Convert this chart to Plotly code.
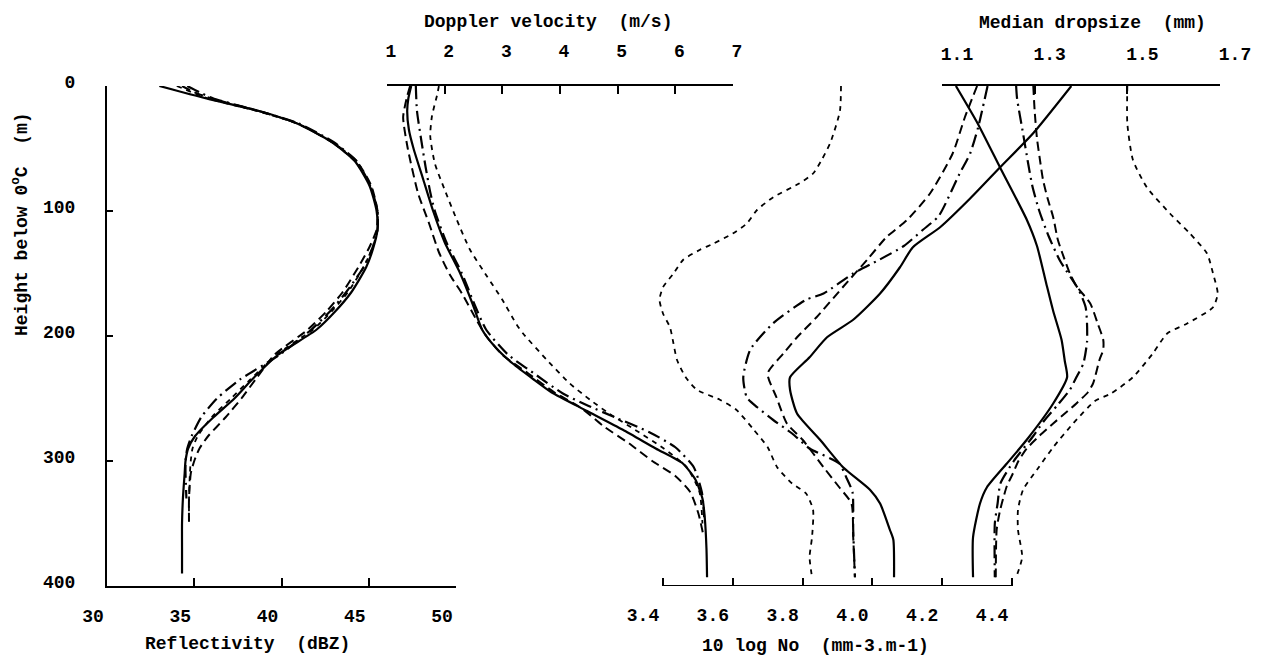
import plotly.graph_objects as go

W, H = 1267, 658

# ---------------- data ----------------
# Reflectivity (dBZ) vs height below 0 degC (m)
refl_h_solid = [0, 10, 20, 30, 45, 60, 80, 100, 115, 130, 145, 165, 180, 195, 215, 235, 250, 265, 280, 290, 300, 310, 330, 350, 370, 390]
refl_solid = [33.0, 35.7, 38.7, 40.9, 42.9, 44.2, 45.05, 45.45, 45.5, 45.25, 44.85, 44.0, 43.1, 42.0, 39.8, 38.3, 37.3, 36.1, 35.05, 34.65, 34.5, 34.45, 34.35, 34.3, 34.3, 34.3]
refl_h_dash = [0, 5, 10, 20, 30, 45, 60, 80, 100, 115, 130, 145, 165, 180, 195, 215, 235, 250, 265, 280, 290, 300, 310, 330, 350]
refl_dash = [34.3, 35.0, 36.0, 38.7, 40.9, 42.9, 44.3, 45.15, 45.5, 45.45, 45.0, 44.4, 43.5, 42.6, 41.5, 39.6, 38.5, 37.7, 36.8, 35.8, 35.3, 35.0, 34.8, 34.7, 34.7]
refl_h_dashdot = [0, 5, 10, 20, 30, 45, 60, 80, 100, 115, 130, 145, 165, 180, 195, 215, 235, 250, 265, 280, 290, 300, 310, 330]
refl_dashdot = [34.6, 35.3, 36.1, 38.7, 41.0, 43.0, 44.3, 45.1, 45.5, 45.5, 45.2, 44.7, 43.7, 42.8, 41.7, 39.9, 37.6, 36.3, 35.4, 34.85, 34.6, 34.5, 34.5, 34.55]
refl_h_dot = [0, 10, 20, 30, 45, 60, 80, 100, 115, 130, 145, 165, 180, 195, 215, 235, 250, 265, 280, 290, 300, 310, 330, 350]
refl_dot = [34.0, 35.8, 38.6, 40.9, 42.9, 44.2, 45.1, 45.5, 45.5, 45.2, 44.7, 43.8, 42.9, 41.8, 39.7, 38.2, 37.1, 36.0, 35.2, 34.9, 34.8, 34.75, 34.7, 34.7]

# Doppler velocity (m/s)
vel_h_solid = [0, 10, 20, 35, 50, 75, 100, 125, 150, 175, 195, 210, 222, 235, 245, 260, 275, 290, 302, 315, 330, 345, 370, 393]
vel_solid = [1.42, 1.37, 1.35, 1.38, 1.46, 1.63, 1.80, 2.0, 2.27, 2.49, 2.65, 2.9, 3.18, 3.55, 3.85, 4.47, 5.09, 5.66, 6.13, 6.35, 6.47, 6.51, 6.54, 6.55]
vel_h_dash = [0, 10, 25, 50, 86, 110, 133, 151, 166, 187, 200, 215, 230, 245, 258, 272, 286, 300, 312, 325, 342, 358]
vel_dash = [1.40, 1.34, 1.28, 1.36, 1.54, 1.73, 1.90, 2.09, 2.30, 2.55, 2.72, 3.0, 3.45, 3.9, 4.38, 4.75, 5.2, 5.6, 6.0, 6.26, 6.4, 6.48]
vel_h_dashdot = [0, 20, 45, 65, 85, 100, 125, 150, 175, 195, 215, 230, 246, 255, 265, 277, 289, 305, 325, 345]
vel_dashdot = [1.50, 1.52, 1.60, 1.67, 1.75, 1.83, 2.03, 2.30, 2.52, 2.72, 3.1, 3.55, 4.05, 4.45, 4.95, 5.55, 6.0, 6.32, 6.46, 6.5]
vel_h_dot = [0, 7, 24, 40, 62, 83, 107, 131, 152, 171, 191, 198, 219, 238, 251, 262, 275, 290, 305, 325, 350]
vel_dot = [1.9, 1.87, 1.78, 1.75, 1.83, 2.0, 2.21, 2.44, 2.73, 3.0, 3.25, 3.36, 3.77, 4.17, 4.52, 4.85, 5.3, 5.8, 6.2, 6.42, 6.47]

# 10 log No (mm-3.m-1)
no_h_solid = [0, 38, 65, 90, 113, 129, 145, 166, 187, 201, 217, 233, 243, 262, 283, 305, 323, 334, 355, 363, 393]
no_solid = [4.57, 4.46, 4.366, 4.28, 4.194, 4.116, 4.079, 4.022, 3.945, 3.87, 3.82, 3.764, 3.764, 3.784, 3.85, 3.916, 3.993, 4.022, 4.05, 4.06, 4.062]
no_h_dash = [0, 25, 54, 86, 107, 121, 139, 161, 185, 201, 214, 230, 249, 270, 283, 305, 321, 334, 361, 393]
no_dash = [4.30, 4.265, 4.23, 4.165, 4.10, 4.04, 3.985, 3.915, 3.84, 3.784, 3.745, 3.70, 3.725, 3.755, 3.80, 3.86, 3.905, 3.94, 3.945, 3.95]
no_h_dashdot = [0, 33, 54, 70, 104, 115, 128, 139, 150, 166, 171, 190, 211, 233, 249, 257, 267, 278, 290, 302, 313, 325, 355, 393]
no_dashdot = [4.33, 4.303, 4.28, 4.25, 4.19, 4.145, 4.09, 4.02, 3.945, 3.86, 3.81, 3.715, 3.65, 3.63, 3.64, 3.67, 3.715, 3.77, 3.82, 3.905, 3.925, 3.943, 3.945, 3.95]
no_h_dot = [0, 20, 45, 59, 70, 78, 89, 99, 110, 118, 126, 131, 139, 150, 161, 171, 182, 193, 206, 219, 233, 243, 251, 259, 275, 289, 305, 318, 326, 339, 361, 377, 393]
no_dot = [3.91, 3.907, 3.88, 3.855, 3.83, 3.79, 3.716, 3.67, 3.64, 3.60, 3.545, 3.506, 3.458, 3.43, 3.40, 3.39, 3.40, 3.42, 3.43, 3.44, 3.465, 3.497, 3.563, 3.61, 3.66, 3.70, 3.727, 3.77, 3.81, 3.83, 3.827, 3.82, 3.827]

# Median dropsize (mm)
d0_h_solid = [0, 30, 65, 107, 128, 158, 180, 203, 220, 233, 254, 283, 302, 321, 334, 361, 393]
d0_solid = [1.13, 1.177, 1.225, 1.283, 1.305, 1.325, 1.34, 1.358, 1.365, 1.37, 1.34, 1.283, 1.24, 1.197, 1.182, 1.167, 1.167]
d0_h_dash = [0, 20, 42, 58, 75, 90, 105, 123, 134, 150, 160, 174, 190, 203, 211, 219, 238, 245, 254, 262, 270, 280, 290, 300, 310, 320, 330, 340, 355, 393]
d0_dash = [1.297, 1.30, 1.305, 1.311, 1.318, 1.328, 1.34, 1.35, 1.36, 1.376, 1.39, 1.42, 1.436, 1.448, 1.448, 1.44, 1.426, 1.415, 1.39, 1.365, 1.34, 1.31, 1.283, 1.265, 1.253, 1.24, 1.232, 1.225, 1.218, 1.216]
d0_h_dashdot = [0, 10, 38, 60, 80, 100, 120, 140, 163, 177, 190, 205, 222, 233, 243, 255, 268, 280, 300, 318, 334, 350, 393]
d0_dashdot = [1.26, 1.262, 1.275, 1.285, 1.295, 1.31, 1.33, 1.355, 1.395, 1.41, 1.413, 1.413, 1.405, 1.39, 1.376, 1.35, 1.32, 1.297, 1.255, 1.226, 1.22, 1.214, 1.214]
d0_h_dot = [0, 30, 59, 81, 102, 118, 134, 150, 166, 177, 190, 198, 214, 233, 246, 252, 270, 289, 307, 323, 339, 355, 377, 393]
d0_dot = [1.50, 1.50, 1.512, 1.542, 1.592, 1.635, 1.672, 1.685, 1.695, 1.685, 1.629, 1.586, 1.555, 1.512, 1.465, 1.43, 1.383, 1.34, 1.305, 1.275, 1.264, 1.264, 1.273, 1.26]

# axis ticks
height_ticks = [0, 100, 200, 300, 400]
refl_ticks = [30, 35, 40, 45, 50]
vel_ticks = [1, 2, 3, 4, 5, 6, 7]
no_ticks = [3.4, 3.6, 3.8, 4.0, 4.2, 4.4]
no_tick_text = ["3.4", "3.6", "3.8", "4.0", "4.2", "4.4"]
d0_ticks = [1.1, 1.3, 1.5, 1.7]
d0_tick_text = ["1.1", "1.3", "1.5", "1.7"]

# ---------------- styling ----------------
FONT = dict(family="Liberation Mono, DejaVu Sans Mono, monospace", size=18, color="black", weight="bold")
STYLES = {
    "solid": dict(color="black", width=2.2, dash="solid"),
    "dash": dict(color="black", width=2.0, dash="9px,5px"),
    "dashdot": dict(color="black", width=2.2, dash="13px,5px,2px,5px"),
    "dot": dict(color="black", width=1.8, dash="5px,5px"),
}


def px(v):
    return v / W


def py(v):
    return 1 - v / H


fig = go.Figure()

panels = [
    ("x", [(refl_solid, refl_h_solid, "solid"), (refl_dash, refl_h_dash, "dash"),
           (refl_dashdot, refl_h_dashdot, "dashdot"), (refl_dot, refl_h_dot, "dot")]),
    ("x2", [(vel_solid, vel_h_solid, "solid"), (vel_dash, vel_h_dash, "dash"),
            (vel_dashdot, vel_h_dashdot, "dashdot"), (vel_dot, vel_h_dot, "dot")]),
    ("x3", [(no_solid, no_h_solid, "solid"), (no_dash, no_h_dash, "dash"),
            (no_dashdot, no_h_dashdot, "dashdot"), (no_dot, no_h_dot, "dot")]),
    ("x4", [(d0_solid, d0_h_solid, "solid"), (d0_dash, d0_h_dash, "dash"),
            (d0_dashdot, d0_h_dashdot, "dashdot"), (d0_dot, d0_h_dot, "dot")]),
]
for xa, series in panels:
    for xs, hs, style in series:
        fig.add_trace(go.Scatter(x=xs, y=hs, xaxis=xa, yaxis="y", mode="lines",
                                 line=dict(shape="spline", smoothing=0.6, **STYLES[style]),
                                 showlegend=False, hoverinfo="skip"))

axis_common = dict(showgrid=False, zeroline=False, ticks="inside", tickcolor="black",
                   tickwidth=2, ticklen=8, linecolor="black", linewidth=2,
                   tickfont=FONT, fixedrange=True, automargin=False)

y_dom = [py(586), py(86)]
fig.update_layout(
    width=W, height=H, margin=dict(l=0, r=0, t=0, b=0, autoexpand=False),
    paper_bgcolor="white", plot_bgcolor="rgba(0,0,0,0)",
    yaxis=dict(domain=y_dom, range=[400, 0], anchor="x", tickvals=height_ticks,
               showline=True, ticklabelstandoff=26, ticklabelshift=4,
               **{**axis_common, "ticklen": 6}),
    xaxis=dict(domain=[px(107), px(456)], range=[30, 50], anchor="y", side="bottom",
               tickvals=refl_ticks, showline=True, ticklabelshift=-14, ticklabelstandoff=12,
               **axis_common),
    xaxis2=dict(domain=[px(387), px(733)], range=[1, 7], anchor="y", side="top",
                tickvals=vel_ticks, showline=True, ticklabelshift=4, ticklabelstandoff=20,
                **axis_common),
    xaxis3=dict(domain=[px(663 - 0.1 * 349), px(663 + 1.3 * 349)], range=[3.3, 4.7],
                anchor="y", side="bottom", tickvals=no_ticks, ticktext=no_tick_text,
                showline=False, ticklabelshift=-20, ticklabelstandoff=16,
                **axis_common),
    xaxis4=dict(domain=[px(942), px(1220)], range=[1.1, 1.7], anchor="y", side="top",
                tickvals=d0_ticks, ticktext=d0_tick_text, showline=True,
                ticklabelshift=15, ticklabelstandoff=17, **axis_common),
)

# baseline of the No axis, spanning only its labelled range
fig.add_shape(type="line", xref="x3", yref="y", x0=no_ticks[0], x1=no_ticks[-1], y0=400, y1=400,
              line=dict(color="black", width=2))

NB = "\u00a0"
titles = [
    ("Doppler" + NB + "velocity" + NB * 2 + "(m/s)", 548, 22, 0),
    ("Median" + NB + "dropsize" + NB * 2 + "(mm)", 1092, 23, 0),
    ("Reflectivity" + NB * 2 + "(dBZ)", 247, 644, 0),
    ("10" + NB + "log" + NB + "No" + NB * 2 + "(mm-3.m-1)", 815, 646, 0),
    ("Height" + NB + "below" + NB + "0<sup>o</sup>C" + NB * 2 + "(m)", 20, 224, -90),
]
for text, x, y, ang in titles:
    fig.add_annotation(text=text, x=px(x), y=py(y), xref="paper", yref="paper",
                       xanchor="center", yanchor="middle", showarrow=False,
                       textangle=ang, font=FONT)

fig.write_html("out.html")
